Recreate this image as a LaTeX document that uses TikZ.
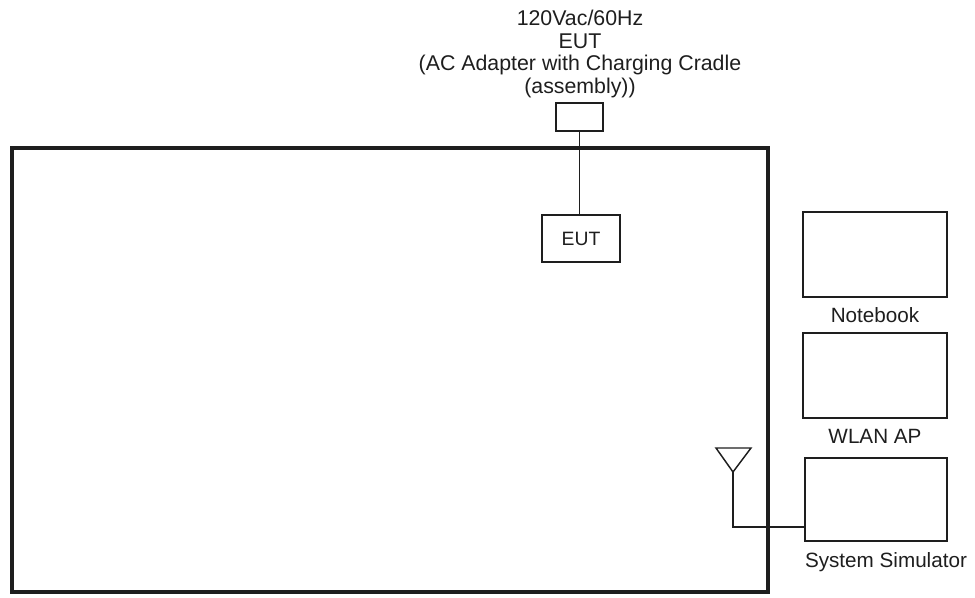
\documentclass[tikz,border=0pt]{standalone}
\usepackage{fontspec}
\setmainfont{Liberation Sans}
\usetikzlibrary{positioning}
\definecolor{ink}{RGB}{30,30,30}

\begin{document}
\begin{tikzpicture}[x=0.75pt,y=-0.75pt,
  chamberbox/.style={draw=ink,line width=3pt,minimum width=567pt,minimum height=333pt},
  box/.style={draw=ink,line width=1.4pt,inner sep=0pt},
  devbox/.style={box,minimum width=108pt,minimum height=63.75pt},
  lbl/.style={text=ink,font=\fontsize{15.5}{18}\selectfont,inner sep=0pt},
  wire/.style={draw=ink,line width=1.1pt}
]
\useasboundingbox (0,0) rectangle (975,597);

\node[chamberbox] (chamber) at (390,370) {};

\node[text=ink,align=center,font=\fontsize{16}{16.8}\selectfont,inner sep=0pt] (power) at (580,54)
  {120Vac/60Hz\\EUT\\(AC Adapter with Charging Cradle\\(assembly))};
\node[box,minimum width=35.25pt,minimum height=21pt] (plug) at (579.5,117) {};
\node[box,minimum width=58.5pt,minimum height=35.25pt,text=ink,font=\fontsize{14.5}{17}\selectfont] (eut) at (581,238.5) {EUT};
\draw[wire,line width=1.4pt] (plug.south) -- (eut.north -| plug.south);

% support equipment
\node[devbox] (nb) at (875,254.5) {};
\node[lbl] (nblbl) at (875,315) {Notebook};
\node[devbox] (ap) at (875,375.5) {};
\node[lbl] (aplbl) at (875,436) {WLAN AP};
\node[devbox,minimum width=106.5pt,minimum height=62.25pt] (sim) at (876,499.5) {};
\node[lbl] (simlbl) at (886,562) {System Simulator};

% antenna
\coordinate (ant) at (733,472);
\coordinate (antbend) at (733,527);
\draw[wire,line join=miter] (716,448) -- (751,448) -- (ant) -- cycle;
\draw[wire] (ant) -- (antbend) -- (antbend -| sim.west);
\end{tikzpicture}
\end{document}
